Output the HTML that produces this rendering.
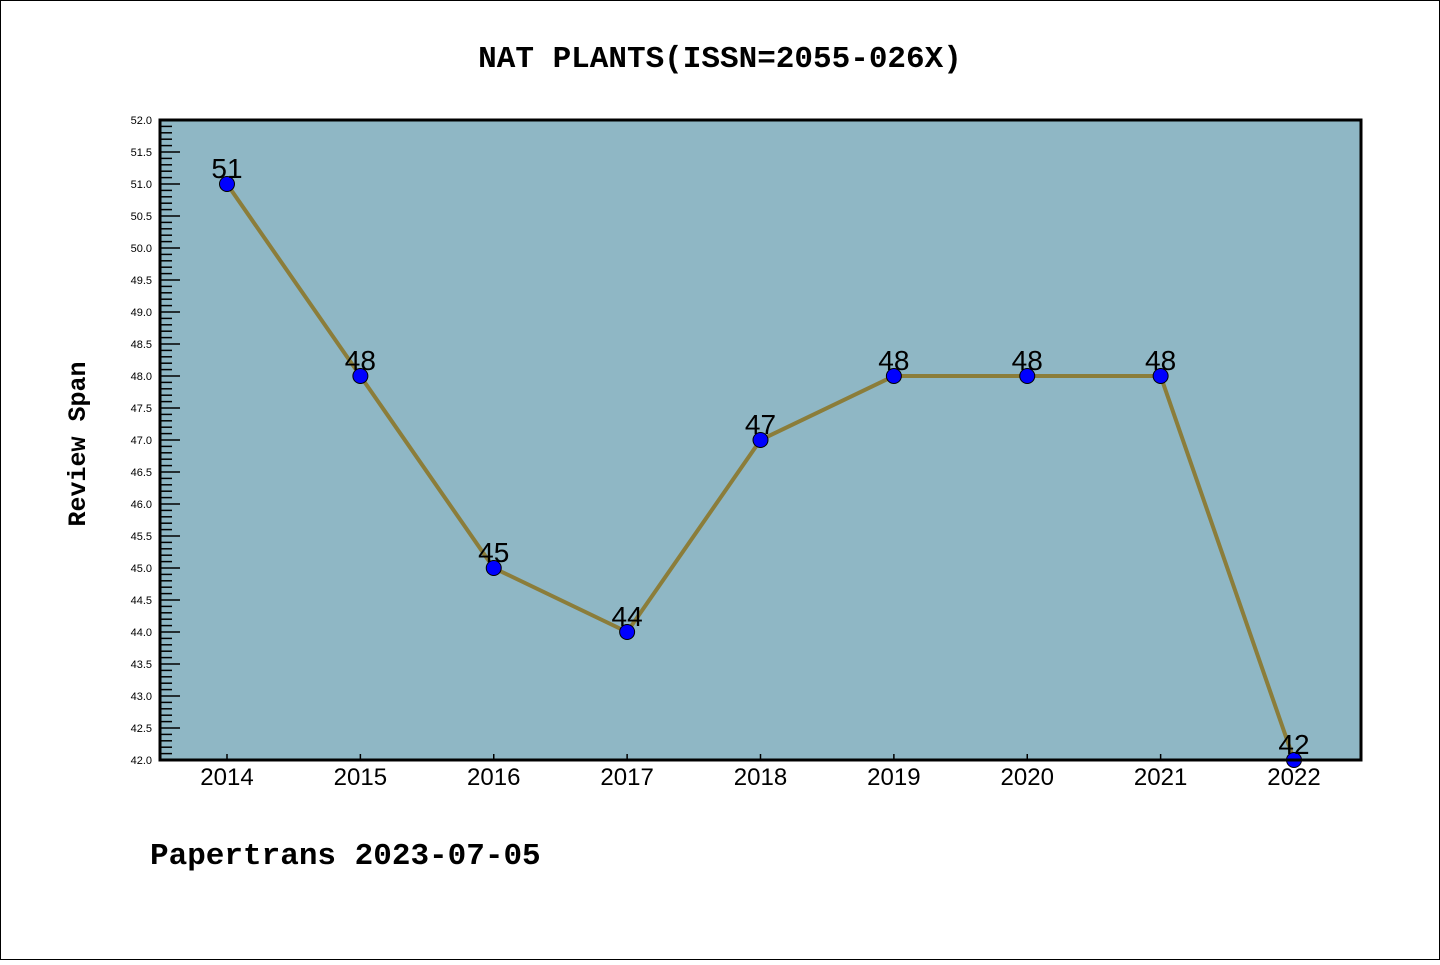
<!DOCTYPE html>
<html><head><meta charset="utf-8"><style>
body{margin:0;background:#fff;}
svg text{font-family:"Liberation Sans","DejaVu Sans",sans-serif;}
</style></head><body>
<svg id="chart" width="1440" height="960" xmlns="http://www.w3.org/2000/svg">
<rect x="0.5" y="0.5" width="1439" height="959" fill="#fff" stroke="#000"/>
<text x="720" y="67" text-anchor="middle" font-size="31" style="font-family:'Liberation Mono','DejaVu Sans Mono',monospace;font-weight:600">NAT PLANTS(ISSN=2055-026X)</text>
<rect x="160" y="120" width="1201" height="640" fill="#8fb7c5"/>
<g id="ticks"></g>
<g id="marks"></g>
<rect x="160" y="120" width="1201" height="640" fill="none" stroke="#000" stroke-width="3"/>
<text x="85" y="444" text-anchor="middle" font-size="25" transform="rotate(-90 85 444)" style="font-family:'Liberation Mono','DejaVu Sans Mono',monospace;font-weight:600">Review Span</text>
<text x="150" y="864" font-size="31" style="font-family:'Liberation Mono','DejaVu Sans Mono',monospace;font-weight:600">Papertrans 2023-07-05</text>
</svg>
<script>
const years = ["2014","2015","2016","2017","2018","2019","2020","2021","2022"];
const spans = [51,48,45,44,47,48,48,48,42];
const yTicks = ["42.0","42.5","43.0","43.5","44.0","44.5","45.0","45.5","46.0","46.5","47.0","47.5","48.0","48.5","49.0","49.5","50.0","50.5","51.0","51.5","52.0"];
const yMin=42,yMax=52,plotTop=120,plotBot=760,x0=227,x1=1294;
const NS="http://www.w3.org/2000/svg";
function yS(v){return plotBot-(v-yMin)/(yMax-yMin)*(plotBot-plotTop);}
function xS(i){return x0+i*(x1-x0)/(years.length-1);}
function mk(t,a,p){const e=document.createElementNS(NS,t);for(const k in a)e.setAttribute(k,a[k]);p.appendChild(e);return e;}
const tg=document.getElementById('ticks'),mg=document.getElementById('marks');
for(let k=0;k<=100;k++){const v=yMin+k*0.1;const major=k%5===0;
 const l=mk('line',{x1:160,x2:160+(major?20:12),y1:yS(v),y2:yS(v),stroke:'#000','stroke-width':1.5},tg);
 
 }
yTicks.forEach(s=>{const t=mk('text',{x:152,y:yS(parseFloat(s))+4,'text-anchor':'end','font-size':11},tg);t.textContent=s;
 
 });
years.forEach((y,i)=>{const l=mk('line',{x1:xS(i),x2:xS(i),y1:plotBot,y2:plotBot-6,stroke:'#000','stroke-width':1.5},tg);
 
 
 const t=mk('text',{x:xS(i),y:plotBot+25,'text-anchor':'middle','font-size':24},tg);t.textContent=y;
 
 });
const pl=mk('polyline',{points:spans.map((v,i)=>xS(i)+','+yS(v)).join(' '),fill:'none',stroke:'#8b7d3a','stroke-width':4},mg);


spans.forEach((v,i)=>{const c=mk('circle',{cx:xS(i),cy:yS(v),r:7.5,fill:'#0000ff',stroke:'#000','stroke-width':1},mg);
 
 
 const t=mk('text',{x:xS(i),y:yS(v)-6,'text-anchor':'middle','font-size':28},mg);t.textContent=v;
 
 });
</script>
</body></html>
